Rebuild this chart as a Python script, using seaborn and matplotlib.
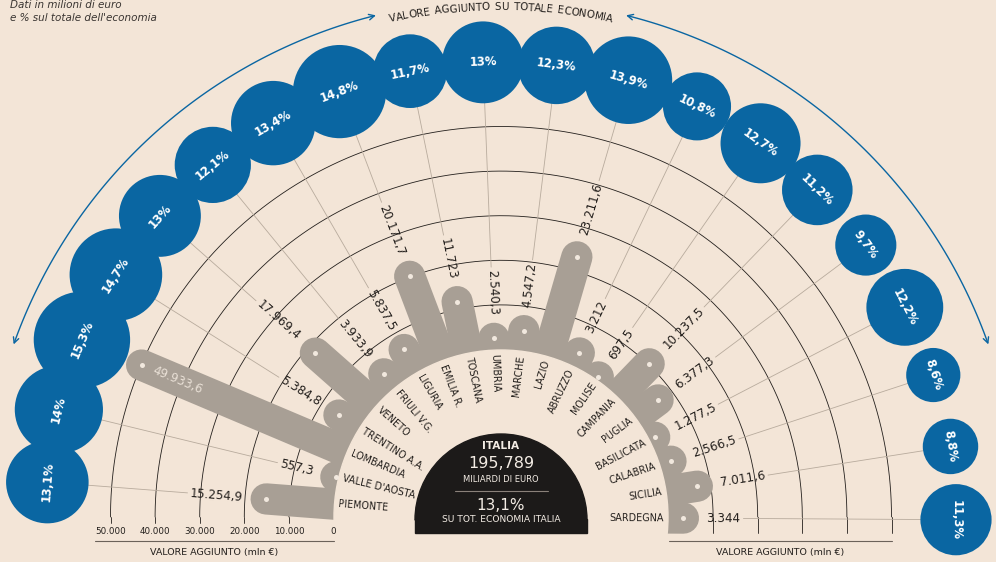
import numpy as np
import matplotlib
matplotlib.use('Agg')
import matplotlib.pyplot as plt
import seaborn as sns
from matplotlib.patches import Circle, Wedge, Rectangle, FancyArrowPatch
from matplotlib.path import Path

# dati: valore aggiunto (mln euro) e quota sul totale dell'economia (%)
regioni = ['PIEMONTE', "VALLE D'AOSTA", 'LOMBARDIA', 'TRENTINO A.A.', 'VENETO',
           'FRIULI V.G.', 'LIGURIA', 'EMILIA R.', 'TOSCANA', 'UMBRIA', 'MARCHE',
           'LAZIO', 'ABRUZZO', 'MOLISE', 'CAMPANIA', 'PUGLIA', 'BASILICATA',
           'CALABRIA', 'SICILIA', 'SARDEGNA']
valore = [15254.9, 557.3, 49933.6, 5384.8, 17969.4, 3933.9, 5837.5, 20171.7,
          11723, 2540.3, 4547.2, 23211.6, 3212, 697.5, 10237.5, 6377.3, 1277.5,
          2566.5, 7011.6, 3344]
quota = [13.1, 14, 15.3, 14.7, 13, 12.1, 13.4, 14.8, 11.7, 13, 12.3, 13.9,
         10.8, 12.7, 11.2, 9.7, 12.2, 8.6, 8.8, 11.3]
tick_vals = [0, 10000, 20000, 30000, 40000, 50000]
italia_valore = '195,789'
italia_quota = '13,1%'

BG = '#f3e5d7'
BAR = '#a89f95'
BLUE = '#0a66a2'
INK = '#231f1c'
LEAD = '#b8ab9d'

CX, CY = 501, 517      # centre of the half circle (pixels)
R0 = 167.5             # radius of value 0
K = 44.6 / 10000       # pixels per mln euro
RC = 455               # radius of the blue circles ring
theta = np.deg2rad(175.6 - np.arange(len(regioni)) * 9.26)


def it_num(v):
    s = f"{int(v):,}" if float(v).is_integer() else f"{v:,.1f}"
    return s.replace(',', 'X').replace('.', ',').replace('X', '.')


def pol(r, t):
    return CX + r * np.cos(t), CY - r * np.sin(t)


sns.set_theme(style='white', rc={'figure.facecolor': BG, 'axes.facecolor': BG})
plt.rcParams['font.family'] = ['DejaVu Sans']

fig = plt.figure(figsize=(9.96, 5.62), dpi=100)
ax = fig.add_axes([0, 0, 1, 1])
ax.set_xlim(0, 996)
ax.set_ylim(562, 0)
ax.axis('off')
renderer = fig.canvas.get_renderer()


def text_w(s, size, weight='normal'):
    t = ax.text(0, 0, s, fontsize=size, fontweight=weight)
    w = t.get_window_extent(renderer).width
    t.remove()
    return w


# grid arcs + ticks
tt = np.linspace(0, np.pi, 300)
for v in tick_vals[1:]:
    r = R0 + v * K
    x, y = pol(r, tt)
    ax.plot(x, y, color=INK, lw=0.6, zorder=1)
    ax.plot([CX - r, CX - r], [CY, 523], color=INK, lw=0.6, zorder=1)
    ax.plot([CX + r, CX + r], [CY, 533], color=INK, lw=0.6, zorder=1)
for v in tick_vals:
    ax.text(CX - R0 - v * K, 531, it_num(v), fontsize=6.3, color=INK,
            ha='center', va='center', zorder=6)
ax.plot([95, CX - R0], [541, 541], color='#6b625a', lw=0.8, zorder=6)
ax.plot([CX + R0, CX + R0 + 50000 * K], [541, 541], color='#6b625a', lw=0.8,
        zorder=6)
ax.text(214, 552, 'VALORE AGGIUNTO (mln €)', fontsize=6.8, color=INK,
        ha='center', va='center', zorder=6)
ax.text(780, 552, 'VALORE AGGIUNTO (mln €)', fontsize=6.8, color=INK,
        ha='center', va='center', zorder=6)

# bars
rd = R0 + np.array(valore) * K
for t, r in zip(theta, rd):
    x, y = pol(np.array([150, r]), t)
    ax.plot(x, y, color=BAR, lw=22.5, solid_capstyle='round', zorder=3)
ax.add_patch(Circle((CX, CY), R0 - 0.5, color=BG, zorder=4))
dx, dy = pol(rd, theta)
sns.scatterplot(x=dx, y=dy, s=13, color='#f1e8de', linewidth=0, zorder=5, ax=ax)

# region labels and value labels
for i, (t, r) in enumerate(zip(theta, rd)):
    deg = np.rad2deg(t)
    left = deg > 90
    rot = deg - 180 if left else deg
    x, y = pol(163, t)
    ax.text(x, y, regioni[i], fontsize=6.9, color=INK, rotation=rot,
            rotation_mode='anchor', ha='left' if left else 'right', va='center',
            zorder=6)
    lab = it_num(valore[i])
    if valore[i] > 40000:
        x, y = pol(r - 13, t)
        ax.text(x, y, lab, fontsize=8.6, color='#e9e0d6', rotation=rot,
                rotation_mode='anchor', ha='left', va='center', zorder=6)
        continue
    r_in = r + 23
    x, y = pol(r_in, t)
    ax.text(x, y, lab, fontsize=8.6, color=INK, rotation=rot,
            rotation_mode='anchor', ha='right' if left else 'left', va='center',
            zorder=6)
    r_out = r_in + text_w(lab, 8.6) + 3
    lx, ly = pol(np.array([r_out, RC]), t)
    ax.plot(lx, ly, color=LEAD, lw=0.6, zorder=2)

# blue circles with share of economy
cx, cy = pol(RC, theta)
sizes = (2 * 3.15 * np.array(quota) * 0.72) ** 2
sns.scatterplot(x=cx, y=cy, s=sizes, color=BLUE, linewidth=0, zorder=7, ax=ax)
for t, q, x, y in zip(theta, quota, cx, cy):
    ax.text(x, y, it_num(q) + '%', fontsize=8.4, fontweight='bold', color='white',
            rotation=np.rad2deg(t) - 90, rotation_mode='anchor',
            ha='center', va='center', zorder=8)

# Italia centre (y axis is inverted, so the upper half is 180..360)
ax.add_patch(Wedge((CX, 520), 86, 180, 360, color='#1c1a19', zorder=6))
ax.add_patch(Rectangle((CX - 86, 519), 172, 14, color='#1c1a19', zorder=6))
ax.text(CX, 446, 'ITALIA', fontsize=7.6, fontweight='bold', color='#f3ece4',
        ha='center', va='center', zorder=7)
ax.text(CX, 463, italia_valore, fontsize=11.5, color='#f3ece4',
        ha='center', va='center', zorder=7)
ax.text(CX, 479, 'MILIARDI DI EURO', fontsize=6, color='#f3ece4',
        ha='center', va='center', zorder=7)
ax.plot([455, 548], [491, 491], color='#8a817a', lw=0.8, zorder=7)
ax.text(CX, 505, italia_quota, fontsize=11, color='#f3ece4',
        ha='center', va='center', zorder=7)
ax.text(CX, 520, 'SU TOT. ECONOMIA ITALIA', fontsize=6.6, color='#f3ece4',
        ha='center', va='center', zorder=7)

# curved title with arrows
title = 'VALORE AGGIUNTO SU TOTALE ECONOMIA'
RT = 510
ws = [text_w(c if c != ' ' else 'n', 7.4) * (0.7 if c == ' ' else 1) for c in title]
tot = sum(ws)
cum = -tot / 2
for c, w in zip(title, ws):
    a = np.pi / 2 - (cum + w / 2) / RT
    x, y = pol(RT, a)
    ax.text(x, y, c, fontsize=7.4, color=INK, rotation=np.rad2deg(a) - 90,
            rotation_mode='anchor', ha='center', va='center')
    cum += w
for a0, a1 in [(160.5, 104.0), (19.5, 76.0)]:
    aa = np.deg2rad(np.linspace(a0, a1, 80))
    x, y = pol(517, aa)
    ax.add_patch(FancyArrowPatch(path=Path(np.column_stack([x, y])),
                                 arrowstyle='<->,head_length=4,head_width=2',
                                 color=BLUE, lw=1, zorder=2))

ax.text(10, 5, 'Dati in milioni di euro', fontsize=7.5, style='italic',
        color='#3a3532', ha='left', va='center')
ax.text(10, 18, "e % sul totale dell'economia", fontsize=7.5, style='italic',
        color='#3a3532', ha='left', va='center')

fig.savefig('out.png', dpi=100, facecolor=BG)
